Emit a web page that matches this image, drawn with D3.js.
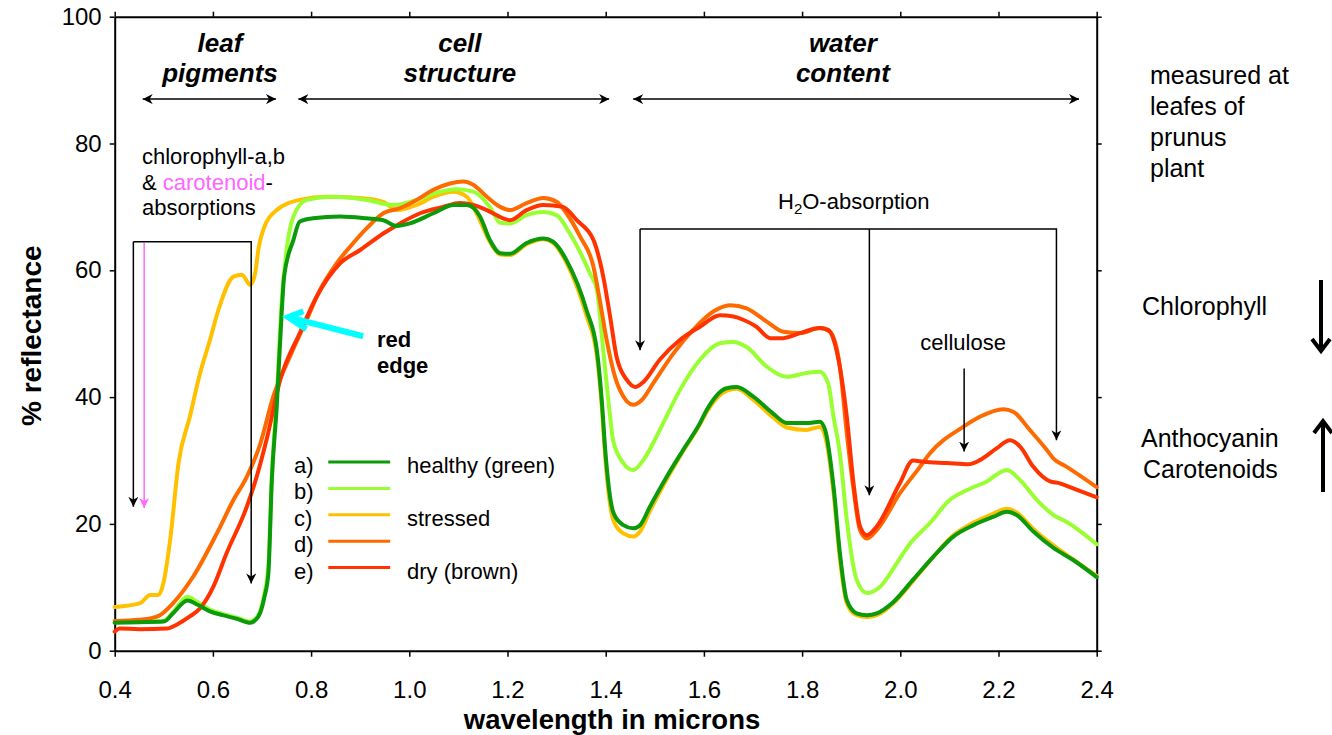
<!DOCTYPE html>
<html>
<head>
<meta charset="utf-8">
<script src="https://cdn.jsdelivr.net/npm/d3@7"></script>
<style>
  body { margin: 0; background: #fff; }
  svg  { display: block; font-family: Arial, "Liberation Sans", sans-serif; }
</style>
</head>
<body>
<svg id="chart" width="1332" height="735"></svg>
<script>
// ── Data ──────────────────────────────────────────────────────
const xTicks = [0.4, 0.6, 0.8, 1.0, 1.2, 1.4, 1.6, 1.8, 2.0, 2.2, 2.4];
const yTicks = [0, 20, 40, 60, 80, 100];

const legendKeys  = ["a)", "b)", "c)", "d)", "e)"];
const legendNames = ["healthy (green)", "", "stressed", "", "dry (brown)"];

// [wavelength in microns, % reflectance]
const healthyGreen = [
  [0.40,4.4],[0.45,4.5],[0.50,4.6],[0.52,6.0],[0.548,7.9],[0.57,7.2],[0.594,6.2],[0.62,5.6],
  [0.65,5.0],[0.676,4.4],[0.686,4.8],[0.696,5.9],[0.705,8.5],[0.713,12.2],[0.72,26.9],[0.73,38.5],
  [0.74,53.2],[0.745,59.0],[0.764,64.8],[0.777,67.7],[0.804,68.2],[0.859,68.5],[0.913,68.2],
  [0.947,67.9],[0.974,67.0],[1.001,67.4],[1.049,69.0],[1.09,70.3],[1.117,70.3],[1.144,68.5],
  [1.164,64.8],[1.185,62.7],[1.205,62.6],[1.239,64.3],[1.273,65.0],[1.293,64.5],[1.32,61.6],
  [1.361,53.7],[1.382,47.4],[1.392,39.5],[1.399,31.7],[1.416,21.7],[1.436,19.8],[1.456,19.3],
  [1.47,19.8],[1.49,22.7],[1.524,27.4],[1.558,31.7],[1.592,35.9],[1.606,38.0],[1.646,41.4],
  [1.667,41.6],[1.70,40.1],[1.741,37.4],[1.769,35.9],[1.809,35.9],[1.836,36.1],[1.847,34.8],
  [1.864,25.9],[1.877,15.4],[1.891,8.0],[1.911,5.9],[1.932,5.6],[1.952,5.9],[1.986,7.7],
  [2.026,11.2],[2.067,14.8],[2.108,18.0],[2.149,19.8],[2.189,21.1],[2.217,21.9],[2.237,21.4],
  [2.271,18.8],[2.312,16.2],[2.352,14.3],[2.40,11.6]
];

const paleGreen = [
  [0.40,4.5],[0.45,4.6],[0.50,4.7],[0.52,6.2],[0.548,8.5],[0.57,7.6],[0.594,6.5],[0.62,5.8],
  [0.65,5.2],[0.676,4.6],[0.686,5.0],[0.696,6.2],[0.705,9.0],[0.713,13.5],[0.72,27.5],[0.73,40.0],
  [0.74,55.0],[0.75,63.2],[0.764,68.5],[0.791,71.1],[0.845,71.6],[0.913,71.1],[0.967,70.3],
  [1.015,71.1],[1.049,72.1],[1.097,72.8],[1.13,72.4],[1.164,70.0],[1.185,67.5],[1.205,67.4],
  [1.239,68.7],[1.273,69.2],[1.30,68.7],[1.327,65.8],[1.368,59.5],[1.382,56.9],[1.395,47.4],
  [1.409,36.9],[1.415,33.2],[1.436,29.6],[1.456,28.5],[1.477,30.1],[1.51,34.8],[1.551,41.1],
  [1.592,45.9],[1.633,48.5],[1.66,48.7],[1.687,47.9],[1.728,44.8],[1.769,43.2],[1.809,43.8],
  [1.836,44.0],[1.853,42.2],[1.864,36.9],[1.877,31.1],[1.891,20.6],[1.911,11.2],[1.932,9.1],
  [1.959,10.1],[1.993,13.8],[2.02,16.9],[2.06,20.1],[2.101,23.8],[2.135,25.3],[2.176,26.7],
  [2.217,28.5],[2.244,26.9],[2.278,23.8],[2.312,21.4],[2.339,20.3],[2.40,16.8]
];

const stressedYellow = [
  [0.40,6.9],[0.452,7.5],[0.472,8.8],[0.489,8.8],[0.499,10.6],[0.513,17.5],[0.53,29.6],
  [0.553,36.9],[0.574,43.8],[0.594,49.0],[0.611,53.7],[0.642,59.0],[0.659,59.3],[0.676,57.7],
  [0.686,59.5],[0.693,63.5],[0.703,66.5],[0.73,69.5],[0.777,71.1],[0.832,71.6],[0.90,71.4],
  [0.947,70.8],[0.974,69.5],[1.015,70.3],[1.049,71.6],[1.09,72.4],[1.117,71.6],[1.137,69.0],
  [1.164,64.5],[1.185,62.5],[1.205,62.4],[1.239,64.1],[1.273,64.9],[1.293,64.3],[1.32,61.2],
  [1.361,52.8],[1.382,46.5],[1.392,38.5],[1.399,30.5],[1.416,20.5],[1.436,18.5],[1.456,18.0],
  [1.47,18.8],[1.49,22.0],[1.524,27.0],[1.558,31.5],[1.592,35.7],[1.606,37.7],[1.646,41.0],
  [1.667,41.3],[1.70,39.6],[1.741,36.8],[1.769,35.2],[1.809,34.8],[1.836,35.3],[1.847,33.8],
  [1.864,25.0],[1.877,14.5],[1.891,7.5],[1.911,5.6],[1.932,5.3],[1.952,5.6],[1.986,7.5],
  [2.026,11.0],[2.067,14.8],[2.108,18.2],[2.149,20.2],[2.189,21.6],[2.217,22.4],[2.237,21.8],
  [2.271,19.2],[2.312,16.6],[2.352,14.4],[2.40,11.8]
];

const orangeLeaf = [
  [0.40,4.7],[0.45,4.9],[0.472,5.1],[0.492,5.6],[0.519,7.5],[0.56,11.7],[0.608,18.5],
  [0.642,23.8],[0.669,27.4],[0.696,32.5],[0.723,40.1],[0.757,46.4],[0.791,52.2],[0.818,56.9],
  [0.852,61.1],[0.886,64.3],[0.913,66.6],[0.947,69.0],[0.981,69.8],[1.015,71.1],[1.049,72.7],
  [1.083,73.7],[1.11,74.0],[1.13,73.5],[1.158,71.6],[1.185,70.0],[1.205,69.5],[1.239,70.6],
  [1.273,71.4],[1.30,70.8],[1.32,69.0],[1.348,65.3],[1.375,60.6],[1.388,55.3],[1.402,49.0],
  [1.419,43.2],[1.436,40.1],[1.456,38.8],[1.473,39.5],[1.497,42.2],[1.538,46.9],[1.578,50.6],
  [1.619,53.5],[1.653,54.5],[1.687,54.0],[1.728,51.9],[1.762,50.3],[1.796,50.1],[1.836,50.9],
  [1.857,50.3],[1.877,44.8],[1.891,34.3],[1.904,25.9],[1.918,19.0],[1.932,17.7],[1.952,19.0],
  [1.999,24.8],[2.04,29.0],[2.06,31.1],[2.128,35.3],[2.162,36.9],[2.21,38.1],[2.23,37.7],
  [2.264,34.8],[2.298,31.7],[2.312,30.3],[2.339,29.0],[2.40,25.8]
];

const dryBrown = [
  [0.40,3.0],[0.41,3.5],[0.45,3.4],[0.506,3.5],[0.526,4.1],[0.553,5.4],[0.574,6.7],[0.601,10.1],
  [0.628,15.4],[0.669,22.7],[0.689,27.4],[0.71,33.5],[0.737,42.7],[0.777,50.1],[0.811,55.8],
  [0.859,61.1],[0.90,63.2],[0.947,65.8],[0.981,67.4],[1.022,69.0],[1.069,70.0],[1.103,70.6],
  [1.13,70.3],[1.158,69.5],[1.191,68.2],[1.205,67.9],[1.239,69.5],[1.273,70.3],[1.313,70.0],
  [1.341,67.9],[1.375,64.8],[1.395,59.0],[1.409,52.7],[1.422,46.4],[1.443,42.7],[1.46,41.6],
  [1.477,42.4],[1.51,45.9],[1.551,49.0],[1.592,51.1],[1.633,52.9],[1.66,52.7],[1.68,52.2],
  [1.707,51.1],[1.735,49.3],[1.762,49.3],[1.796,50.1],[1.836,50.9],[1.853,50.6],[1.87,47.4],
  [1.891,36.9],[1.904,26.9],[1.918,19.6],[1.932,18.2],[1.952,19.6],[1.999,26.4],[2.026,30.0],
  [2.047,29.8],[2.095,29.6],[2.139,29.4],[2.163,30.1],[2.196,31.9],[2.223,33.2],[2.244,32.2],
  [2.271,29.0],[2.305,26.7],[2.325,26.4],[2.352,25.6],[2.40,24.2]
];

// legend order a..e
const seriesData   = [healthyGreen, paleGreen, stressedYellow, orangeLeaf, dryBrown];
const seriesColors = ["#0a9a0a", "#99ff33", "#ffc000", "#ff6a00", "#ff3300"];
const drawOrder    = [2, 1, 3, 4, 0];   // yellow under, dark green on top

// ── Layout ────────────────────────────────────────────────────
const svg = d3.select("#chart");
const x = d3.scaleLinear().domain([0.4, 2.4]).range([114.7, 1096.7]);
const y = d3.scaleLinear().domain([0, 100]).range([650.7, 16.7]);

const defs = svg.append("defs");
function dart(id, color, size) {
  defs.append("marker")
      .attr("id", id)
      .attr("viewBox", "0 0 10 10")
      .attr("refX", 10).attr("refY", 5)
      .attr("markerUnits", "userSpaceOnUse")
      .attr("markerWidth", size).attr("markerHeight", size)
      .attr("orient", "auto-start-reverse")
    .append("path")
      .attr("d", "M0,0 L10,5 L0,10 L3,5 Z")
      .attr("fill", color);
}
dart("arrowBlack", "#000", 10);
dart("arrowPink", "#ff66ff", 10);

// ── Axes ──────────────────────────────────────────────────────
function styleAxis(g) {
  g.attr("font-family", null).attr("font-size", null);
  g.select(".domain").attr("stroke", "#000").attr("stroke-width", 2);
  g.selectAll(".tick line").attr("stroke", "#000").attr("stroke-width", 1.5);
  g.selectAll(".tick text").attr("font-size", 24).attr("fill", "#000");
}

svg.append("g")
    .attr("transform", `translate(0,${y(0)})`)
    .call(d3.axisBottom(x).tickValues(xTicks).tickFormat(d3.format(".1f"))
      .tickSize(6).tickSizeOuter(0).tickPadding(24))
    .call(styleAxis);

svg.append("g")
    .attr("transform", `translate(0,${y(100)})`)
    .call(d3.axisTop(x).tickValues(xTicks).tickFormat("").tickSize(5).tickSizeOuter(0))
    .call(styleAxis);

svg.append("g")
    .attr("transform", `translate(${x(0.4)},0)`)
    .call(d3.axisLeft(y).tickValues(yTicks).tickSize(5).tickSizeOuter(0).tickPadding(8))
    .call(styleAxis);

svg.append("g")
    .attr("transform", `translate(${x(2.4)},0)`)
    .call(d3.axisRight(y).tickValues(yTicks).tickFormat("").tickSize(5).tickSizeOuter(0))
    .call(styleAxis);

svg.append("text")
    .attr("transform", `translate(41,${(y(0) + y(100)) / 2 + 2}) rotate(-90)`)
    .attr("text-anchor", "middle")
    .attr("font-size", 28).attr("font-weight", "bold")
    .text("% reflectance");

svg.append("text")
    .attr("x", 612).attr("y", 729)
    .attr("text-anchor", "middle")
    .attr("font-size", 27.5).attr("font-weight", "bold")
    .text("wavelength in microns");

// ── Curves ────────────────────────────────────────────────────
const line = d3.line()
  .x(d => x(d[0]))
  .y(d => y(d[1]))
  .curve(d3.curveMonotoneX);

svg.append("g")
  .selectAll("path")
  .data(drawOrder)
  .join("path")
    .attr("d", i => line(seriesData[i]))
    .attr("fill", "none")
    .attr("stroke", i => seriesColors[i])
    .attr("stroke-width", 4)
    .attr("stroke-linejoin", "round")
    .attr("stroke-linecap", "round");

// ── Legend ────────────────────────────────────────────────────
const legend = svg.append("g").attr("font-size", 22);
legendKeys.forEach((k, i) => {
  const ly = 462 + i * 26.4;
  legend.append("text").attr("x", 294).attr("y", ly + 11).text(k);
  legend.append("line")
      .attr("x1", x(0.835)).attr("x2", x(0.961))
      .attr("y1", ly).attr("y2", ly)
      .attr("stroke", seriesColors[i]).attr("stroke-width", 3);
  if (legendNames[i]) legend.append("text").attr("x", 407).attr("y", ly + 11).text(legendNames[i]);
});

// ── Region labels (top) ───────────────────────────────────────
const regions = [
  { l1: "leaf",  l2: "pigments",  cx: 0.6145, a: 0.457, b: 0.7285 },
  { l1: "cell",  l2: "structure", cx: 1.103,  a: 0.774, b: 1.407  },
  { l1: "water", l2: "content",   cx: 1.883,  a: 1.456, b: 2.364  }
];
const regionG = svg.append("g");
regions.forEach(r => {
  regionG.append("text").attr("x", x(r.cx)).attr("y", 52)
     .attr("text-anchor", "middle").attr("font-size", 26)
     .attr("font-weight", "bold").attr("font-style", "italic").text(r.l1);
  regionG.append("text").attr("x", x(r.cx)).attr("y", 82)
     .attr("text-anchor", "middle").attr("font-size", 26)
     .attr("font-weight", "bold").attr("font-style", "italic").text(r.l2);
  regionG.append("line")
     .attr("x1", x(r.a)).attr("x2", x(r.b)).attr("y1", y(87)).attr("y2", y(87))
     .attr("stroke", "#000").attr("stroke-width", 1.5)
     .attr("marker-start", "url(#arrowBlack)").attr("marker-end", "url(#arrowBlack)");
});

// ── Annotations inside plot ───────────────────────────────────
const ann = svg.append("g").attr("font-size", 22);

// chlorophyll / carotenoid absorption bracket
ann.append("text").attr("x", 142).attr("y", 164).text("chlorophyll-a,b");
const t2 = ann.append("text").attr("x", 142).attr("y", 190);
t2.append("tspan").text("& ");
t2.append("tspan").attr("fill", "#ff66ff").text("carotenoid");
t2.append("tspan").text("-");
ann.append("text").attr("x", 142).attr("y", 215).text("absorptions");

ann.append("path")
    .attr("d", `M${x(0.438)},${y(64.5)} H${x(0.678)} V${y(10.6)}`)
    .attr("fill", "none").attr("stroke", "#000").attr("stroke-width", 1.5)
    .attr("marker-end", "url(#arrowBlack)");
ann.append("path")
    .attr("d", `M${x(0.438)},${y(64.5)} V${y(22.7)}`)
    .attr("fill", "none").attr("stroke", "#000").attr("stroke-width", 1.5)
    .attr("marker-end", "url(#arrowBlack)");
ann.append("line")
    .attr("x1", x(0.46)).attr("x2", x(0.46)).attr("y1", y(64.3)).attr("y2", y(22.5))
    .attr("stroke", "#ff66ff").attr("stroke-width", 1.5)
    .attr("marker-end", "url(#arrowPink)");

// red edge
ann.append("text").attr("x", 377).attr("y", 347).attr("font-weight", "bold").text("red");
ann.append("text").attr("x", 377).attr("y", 373).attr("font-weight", "bold").text("edge");
const tipX = x(0.7536), tipY = y(52.6);
ann.append("line")
    .attr("x1", x(0.906)).attr("y1", y(49.6)).attr("x2", tipX + 2).attr("y2", tipY + 0.5)
    .attr("stroke", "#00ffff").attr("stroke-width", 6);
ann.append("polyline")
    .attr("points", `${tipX + 15},${tipY - 6} ${tipX},${tipY} ${tipX + 18},${tipY + 12}`)
    .attr("fill", "none").attr("stroke", "#00ffff").attr("stroke-width", 6)
    .attr("stroke-linejoin", "miter");

// H2O absorption bracket
const h2o = ann.append("text").attr("x", 778).attr("y", 209);
h2o.append("tspan").text("H");
h2o.append("tspan").attr("font-size", 15).attr("dy", 5).text("2");
h2o.append("tspan").attr("dy", -5).text("O-absorption");

ann.append("path")
    .attr("d", `M${x(1.47)},${y(66.5)} H${x(2.318)} V${y(33.2)}`)
    .attr("fill", "none").attr("stroke", "#000").attr("stroke-width", 1.5)
    .attr("marker-end", "url(#arrowBlack)");
ann.append("path")
    .attr("d", `M${x(1.47)},${y(66.5)} V${y(47.4)}`)
    .attr("fill", "none").attr("stroke", "#000").attr("stroke-width", 1.5)
    .attr("marker-end", "url(#arrowBlack)");
ann.append("line")
    .attr("x1", x(1.937)).attr("x2", x(1.937)).attr("y1", y(66.5)).attr("y2", y(24.5))
    .attr("stroke", "#000").attr("stroke-width", 1.5)
    .attr("marker-end", "url(#arrowBlack)");

// cellulose
ann.append("text").attr("x", x(2.128)).attr("y", 350).attr("text-anchor", "middle").text("cellulose");
ann.append("line")
    .attr("x1", x(2.13)).attr("x2", x(2.13)).attr("y1", y(44.5)).attr("y2", y(31.4))
    .attr("stroke", "#000").attr("stroke-width", 1.5)
    .attr("marker-end", "url(#arrowBlack)");

// ── Right side notes ──────────────────────────────────────────
const side = svg.append("g").attr("font-size", 25);
["measured at", "leafes of", "prunus", "plant"].forEach((s, i) => {
  side.append("text").attr("x", 1150).attr("y", 84 + i * 31).text(s);
});
side.append("text").attr("x", 1142).attr("y", 315).text("Chlorophyll");
side.append("text").attr("x", 1141).attr("y", 447).text("Anthocyanin");
side.append("text").attr("x", 1143).attr("y", 478).text("Carotenoids");

// thick arrows
side.append("line").attr("x1", 1321).attr("x2", 1321).attr("y1", 280).attr("y2", 350)
    .attr("stroke", "#000").attr("stroke-width", 4);
side.append("polyline").attr("points", "1312,339 1321,351 1330,339")
    .attr("fill", "none").attr("stroke", "#000").attr("stroke-width", 4);
side.append("line").attr("x1", 1323).attr("x2", 1323).attr("y1", 492).attr("y2", 422)
    .attr("stroke", "#000").attr("stroke-width", 4);
side.append("polyline").attr("points", "1314,433 1323,421 1332,433")
    .attr("fill", "none").attr("stroke", "#000").attr("stroke-width", 4);
</script>
</body>
</html>
